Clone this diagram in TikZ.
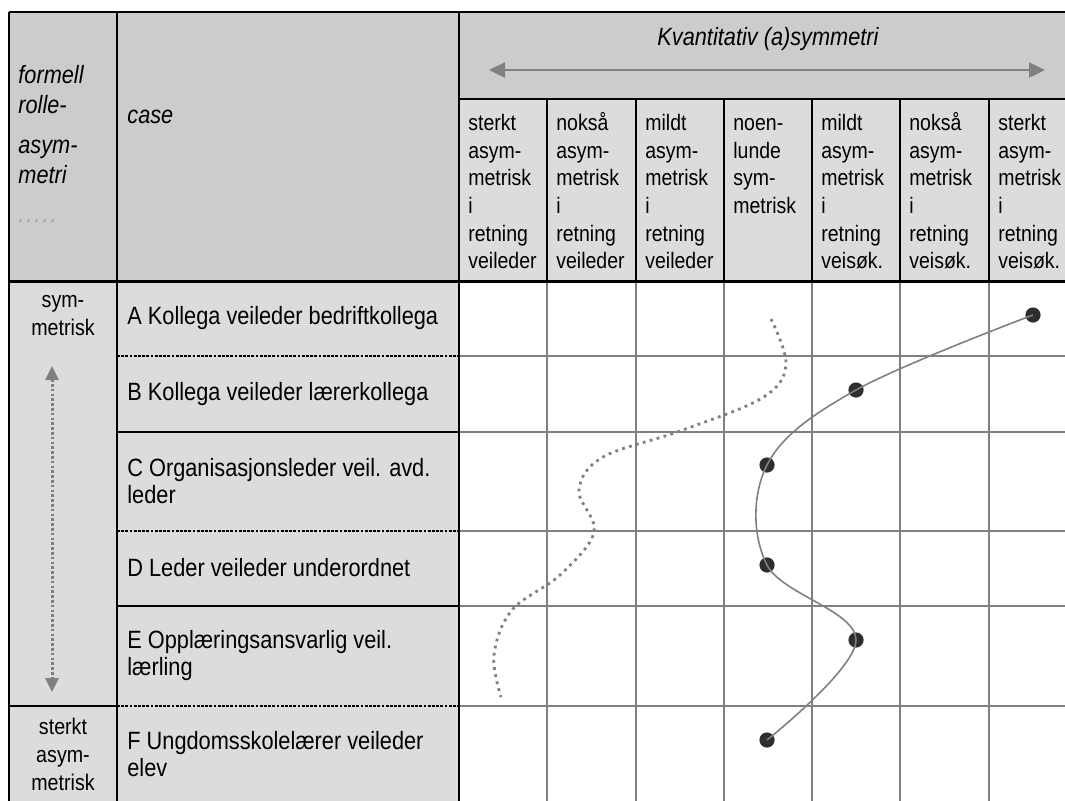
\documentclass[tikz,border=0pt]{standalone}
\usepackage{fontspec}
\setmainfont[FakeStretch=0.87]{Liberation Sans}
\usetikzlibrary{arrows.meta, positioning}

\definecolor{hdrgray}{HTML}{CCCCCC}
\definecolor{cellgray}{HTML}{DCDCDC}
\definecolor{gridgray}{HTML}{808080}
\definecolor{dotgray}{HTML}{A0A0A0}
\definecolor{markdark}{HTML}{2E2E2E}

\tikzset{
  rowtext/.style={anchor=west, align=left, inner sep=0pt,
                  font=\fontsize{12.5pt}{13.5pt}\selectfont},
  colhead/.style={anchor=north west, align=left, inner sep=0pt,
                  font=\fontsize{11.2pt}{13.8pt}\selectfont},
  sidetext/.style={align=center, inner sep=0pt,
                   font=\fontsize{11.3pt}{14pt}\selectfont},
  rule/.style={line width=1pt, black},
  thickrule/.style={line width=1.5pt, black},
  dashrule/.style={line width=0.8pt, black, dash pattern=on 1.4pt off 0.7pt},
  gridline/.style={line width=1pt, gridgray},
  casemark/.style={circle, fill=markdark, inner sep=0pt, minimum size=7.6pt},
  trendline/.style={line width=0.8pt, gridgray},
  shiftline/.style={line width=1.4pt, gridgray, dash pattern=on 1.4pt off 2.2pt},
  twoway/.style={line width=1.2pt, gridgray,
                 {Triangle[length=8pt, width=7.5pt]}-{Triangle[length=8pt, width=7.5pt]}},
  updown/.style={line width=1.5pt, gridgray, dash pattern=on 1.3pt off 1.1pt,
                 {Triangle[length=7pt, width=6.5pt]}-{Triangle[length=7pt, width=6.5pt]}}
}

\begin{document}
\begin{tikzpicture}[x=0.5pt, y=-0.5pt]
  \useasboundingbox (0, 0) rectangle (1065, 800);
  \clip (0, 0) rectangle (1065, 800);

  % cell backgrounds
  \fill[hdrgray] (9, 12) rectangle (1077, 281);
  \fill[cellgray] (459, 99) rectangle (1077, 281);
  \fill[cellgray] (9, 281) rectangle (459, 806);

  % grid of the rating area
  \foreach \y in {356, 432, 531, 606, 706}
    \draw[gridline] (459, \y) -- (1077, \y);
  \foreach \x in {547, 636, 724, 812, 900, 989} {
    \draw[gridline] (\x, 281) -- (\x, 806);
    \draw[rule] (\x, 99) -- (\x, 281);
  }

  % table borders
  \draw[rule] (9, 12) -- (1077, 12);
  \draw[rule] (9, 12) -- (9, 806);
  \draw[rule] (117, 12) -- (117, 806);
  \draw[rule] (459, 12) -- (459, 806);
  \draw[rule] (459, 99) -- (1077, 99);
  \draw[thickrule] (9, 281) -- (1077, 281);
  \draw[rule] (9, 706) -- (117, 706);
  \draw[dashrule] (117, 356) -- (459, 356);
  \draw[rule] (117, 432) -- (459, 432);
  \draw[dashrule] (117, 531) -- (459, 531);
  \draw[rule] (117, 606) -- (459, 606);
  \draw[dashrule] (117, 706) -- (459, 706);

  % header texts
  \node[anchor=north west, align=left, inner sep=0pt,
        font=\fontsize{12.5pt}{15pt}\selectfont\itshape]
        (rolehead) at (18, 62)
        {\strut formell\\ rolle-\\[5pt] asym-\\ metri\\[4.5pt]
         \textcolor{dotgray}{.\kern1pt.\kern1pt.\kern1pt.\kern1pt.}};
  \node[anchor=base west, inner sep=0pt,
        font=\fontsize{12.5pt}{13.5pt}\selectfont\itshape]
        (casehead) at (127, 123) {case};
  \node[anchor=base, inner sep=0pt,
        font=\fontsize{12.5pt}{13.5pt}\selectfont\itshape]
        (kvtitle) at (768, 45) {Kvantitativ (a)symmetri};
  \coordinate (kvL) at (489, 70);
  \coordinate (kvR) at (1045, 70);
  \draw[twoway] (kvL) -- (kvR);

  % scale of the rating columns
  \node[colhead] (h1) at (468, 111) {\strut sterkt\\asym-\\metrisk\\i\\retning\\veileder};
  \node[colhead] (h2) at (556, 111) {\strut nokså\\asym-\\metrisk\\i\\retning\\veileder};
  \node[colhead] (h3) at (645, 111) {\strut mildt\\asym-\\metrisk\\i\\retning\\veileder};
  \node[colhead] (h4) at (733, 111) {\strut noen-\\lunde\\sym-\\metrisk};
  \node[colhead] (h5) at (821, 111) {\strut mildt\\asym-\\metrisk\\i\\retning\\veisøk.};
  \node[colhead] (h6) at (909, 111) {\strut nokså\\asym-\\metrisk\\i\\retning\\veisøk.};
  \node[colhead] (h7) at (998, 111) {\strut sterkt\\asym-\\metrisk\\i\\retning\\veisøk.};

  % role asymmetry axis
  \node[sidetext] (symtop) at (63, 316) {sym-\\metrisk};
  \node[sidetext] (symbot) at (63, 754) {sterkt\\asym-\\metrisk};
  \coordinate (axisTop) at (52, 366);
  \coordinate (axisBot) at (52, 692);
  \draw[updown] (axisTop) -- (axisBot);

  % cases
  \node[rowtext] (caseA) at (127, 318) {A Kollega veileder bedriftkollega};
  \node[rowtext] (caseB) at (127, 394) {B Kollega veileder lærerkollega};
  \node[rowtext] (caseC) at (127, 481) {C Organisasjonsleder veil. avd.\\leder};
  \node[rowtext] (caseD) at (127, 568) {D Leder veileder underordnet};
  \node[rowtext] (caseE) at (127, 656) {E Opplæringsansvarlig veil.\\lærling};
  \node[rowtext] (caseF) at (127, 754) {F Ungdomsskolelærer veileder\\elev};

  % dotted shift line
  \draw[shiftline] plot[smooth, tension=0.6] coordinates {
    (771, 319) (786, 365) (762, 398) (680, 431) (603, 457) (579, 490)
    (594, 532) (560, 575) (512, 610) (494, 655) (501, 697)};

  % placement of each case
  \node[casemark] (pA) at (1033, 315) {};
  \node[casemark] (pB) at (856, 390) {};
  \node[casemark] (pC) at (767, 465) {};
  \node[casemark] (pD) at (767, 565) {};
  \node[casemark] (pE) at (856, 640) {};
  \node[casemark] (pF) at (767, 740) {};
  \draw[trendline] plot[smooth, tension=0.6] coordinates {
    (pA.center) (pB.center) (pC.center) (pD.center) (pE.center) (pF.center)};
\end{tikzpicture}
\end{document}
